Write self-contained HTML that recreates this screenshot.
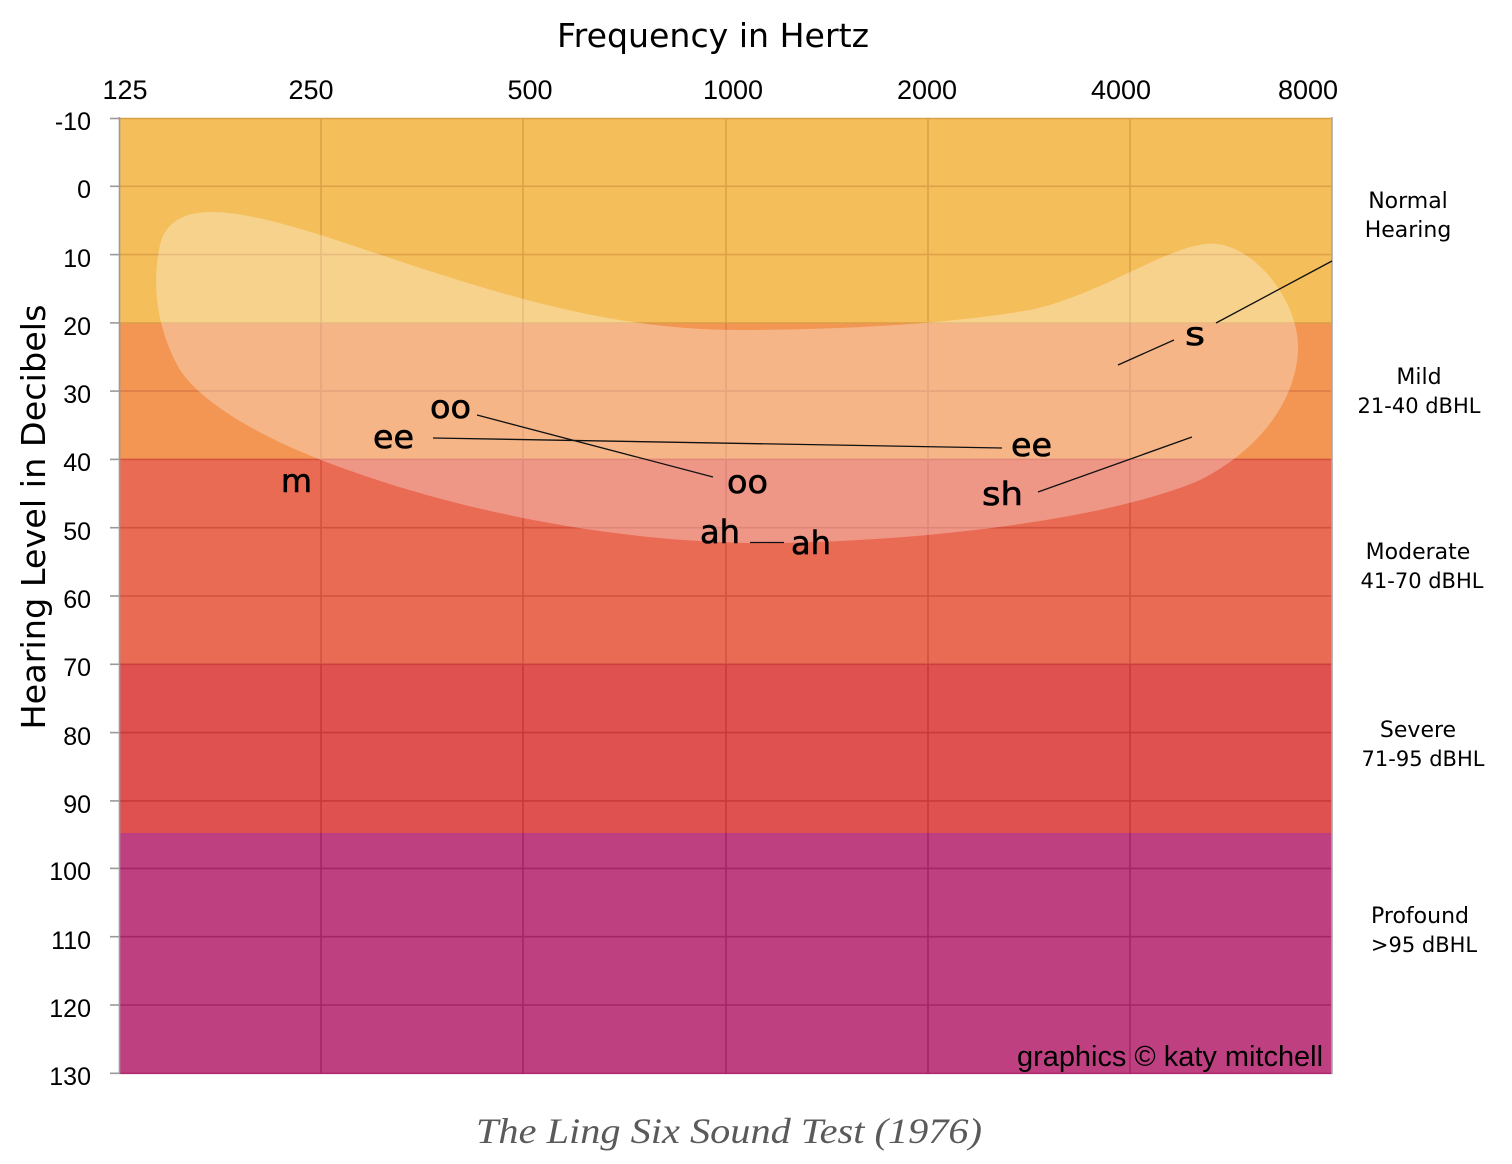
<!DOCTYPE html>
<html>
<head>
<meta charset="utf-8">
<style>
  html,body{margin:0;padding:0;background:#fff;}
  svg{display:block;}
</style>
</head>
<body>
<svg width="1512" height="1164" viewBox="0 0 1512 1164" xmlns="http://www.w3.org/2000/svg">
  <rect x="0" y="0" width="1512" height="1164" fill="#ffffff"/>

  <!-- bands -->
  <rect x="119" y="118" width="1213" height="205" fill="#f4bf5b"/>
  <rect x="119" y="323" width="1213" height="136.4" fill="#f39553"/>
  <rect x="119" y="459.4" width="1213" height="204.9" fill="#e96b54"/>
  <rect x="119" y="664.3" width="1213" height="168.7" fill="#df5150"/>
  <rect x="119" y="833" width="1213" height="241" fill="#bf4081"/>

  <!-- horizontal gridlines -->
  <g stroke-width="1.6" fill="none">
    <line x1="119" y1="118.5" x2="1332" y2="118.5" stroke="#dba045"/>
    <line x1="119" y1="186.3" x2="1332" y2="186.3" stroke="#dea048"/>
    <line x1="119" y1="254.6" x2="1332" y2="254.6" stroke="#dea048"/>
    <line x1="119" y1="322.9" x2="1332" y2="322.9" stroke="#dea048"/>
    <line x1="119" y1="391.1" x2="1332" y2="391.1" stroke="#dc7d47"/>
    <line x1="119" y1="459.4" x2="1332" y2="459.4" stroke="#d4553f"/>
    <line x1="119" y1="527.7" x2="1332" y2="527.7" stroke="#d3523f"/>
    <line x1="119" y1="596" x2="1332" y2="596" stroke="#d3523f"/>
    <line x1="119" y1="664.3" x2="1332" y2="664.3" stroke="#c9403c"/>
    <line x1="119" y1="732.6" x2="1332" y2="732.6" stroke="#c53a3b"/>
    <line x1="119" y1="800.9" x2="1332" y2="800.9" stroke="#c53a3b"/>
    <line x1="119" y1="868.4" x2="1332" y2="868.4" stroke="#a52566"/>
    <line x1="119" y1="936.7" x2="1332" y2="936.7" stroke="#a52566"/>
    <line x1="119" y1="1005" x2="1332" y2="1005" stroke="#a52566"/>
    <line x1="119" y1="1073.3" x2="1332" y2="1073.3" stroke="#b02a70"/>
  </g>

  <!-- vertical gridlines, segmented per band -->
  <g stroke-width="1.6" fill="none">
    <g stroke="#dea048">
      <line x1="321" y1="118" x2="321" y2="323"/>
      <line x1="523" y1="118" x2="523" y2="323"/>
      <line x1="726" y1="118" x2="726" y2="323"/>
      <line x1="928" y1="118" x2="928" y2="323"/>
      <line x1="1130" y1="118" x2="1130" y2="323"/>
    </g>
    <g stroke="#de7f47">
      <line x1="321" y1="323" x2="321" y2="459.4"/>
      <line x1="523" y1="323" x2="523" y2="459.4"/>
      <line x1="726" y1="323" x2="726" y2="459.4"/>
      <line x1="928" y1="323" x2="928" y2="459.4"/>
      <line x1="1130" y1="323" x2="1130" y2="459.4"/>
    </g>
    <g stroke="#d3523f">
      <line x1="321" y1="459.4" x2="321" y2="664.3"/>
      <line x1="523" y1="459.4" x2="523" y2="664.3"/>
      <line x1="726" y1="459.4" x2="726" y2="664.3"/>
      <line x1="928" y1="459.4" x2="928" y2="664.3"/>
      <line x1="1130" y1="459.4" x2="1130" y2="664.3"/>
    </g>
    <g stroke="#c53a3b">
      <line x1="321" y1="664.3" x2="321" y2="833"/>
      <line x1="523" y1="664.3" x2="523" y2="833"/>
      <line x1="726" y1="664.3" x2="726" y2="833"/>
      <line x1="928" y1="664.3" x2="928" y2="833"/>
      <line x1="1130" y1="664.3" x2="1130" y2="833"/>
    </g>
    <g stroke="#a52566">
      <line x1="321" y1="833" x2="321" y2="1074"/>
      <line x1="523" y1="833" x2="523" y2="1074"/>
      <line x1="726" y1="833" x2="726" y2="1074"/>
      <line x1="928" y1="833" x2="928" y2="1074"/>
      <line x1="1130" y1="833" x2="1130" y2="1074"/>
    </g>
  </g>

  <!-- speech banana -->
  <path d="M 210 212
           C 260 212, 330 238, 420 268
           C 520 300, 620 330, 740 330
           C 860 330, 960 322, 1030 310
           C 1100 295, 1160 250, 1205 244
           C 1250 238, 1300 300, 1298 350
           C 1296 400, 1260 450, 1200 480
           C 1120 515, 950 540, 780 543
           C 620 545, 450 510, 321 460
           C 250 432, 200 400, 180 370
           C 160 335, 150 290, 160 245
           C 165 222, 185 212, 210 212 Z"
        fill="#ffffff" fill-opacity="0.3"/>

  <!-- axes -->
  <g stroke="#9a9a9a" stroke-width="1.6">
    <line x1="119.5" y1="117" x2="119.5" y2="1074"/>
    <line x1="1332" y1="117" x2="1332" y2="1074" stroke="#a8a8a8"/>
    <line x1="110" y1="118.5" x2="119" y2="118.5"/>
    <line x1="110" y1="186.3" x2="119" y2="186.3"/>
    <line x1="110" y1="254.6" x2="119" y2="254.6"/>
    <line x1="110" y1="322.9" x2="119" y2="322.9"/>
    <line x1="110" y1="391.1" x2="119" y2="391.1"/>
    <line x1="110" y1="459.4" x2="119" y2="459.4"/>
    <line x1="110" y1="527.7" x2="119" y2="527.7"/>
    <line x1="110" y1="596" x2="119" y2="596"/>
    <line x1="110" y1="664.3" x2="119" y2="664.3"/>
    <line x1="110" y1="732.6" x2="119" y2="732.6"/>
    <line x1="110" y1="800.9" x2="119" y2="800.9"/>
    <line x1="110" y1="868.4" x2="119" y2="868.4"/>
    <line x1="110" y1="936.7" x2="119" y2="936.7"/>
    <line x1="110" y1="1005" x2="119" y2="1005"/>
    <line x1="110" y1="1073.3" x2="119" y2="1073.3"/>
  </g>

  <!-- connector lines -->
  <g stroke="#111" stroke-width="1.3" fill="none">
    <line x1="477" y1="415" x2="713" y2="477"/>
    <line x1="433" y1="438" x2="1002" y2="448"/>
    <line x1="750" y1="542.5" x2="784" y2="542.5"/>
    <line x1="1038" y1="492" x2="1192" y2="437"/>
    <line x1="1118" y1="365" x2="1174" y2="340"/>
    <line x1="1216" y1="323" x2="1332" y2="261"/>
  </g>

  <!-- phoneme labels -->
  <g font-family="'DejaVu Sans', 'Liberation Sans', sans-serif" font-size="32" fill="#000" stroke="#000" stroke-width="0.6">
    <text x="430" y="418" textLength="41" lengthAdjust="spacingAndGlyphs">oo</text>
    <text x="373" y="448" textLength="41" lengthAdjust="spacingAndGlyphs">ee</text>
    <text x="281" y="492" textLength="31" lengthAdjust="spacingAndGlyphs">m</text>
    <text x="727" y="493" textLength="41" lengthAdjust="spacingAndGlyphs">oo</text>
    <text x="700" y="543" textLength="40" lengthAdjust="spacingAndGlyphs">ah</text>
    <text x="791" y="554" textLength="40" lengthAdjust="spacingAndGlyphs">ah</text>
    <text x="1011" y="456" textLength="41" lengthAdjust="spacingAndGlyphs">ee</text>
    <text x="982" y="505" textLength="41" lengthAdjust="spacingAndGlyphs">sh</text>
    <text x="1185" y="345" textLength="20" lengthAdjust="spacingAndGlyphs">s</text>
  </g>

  <!-- y tick labels -->
  <g font-family="'Liberation Sans', Arial, sans-serif" font-size="25" fill="#000" text-anchor="end">
    <text x="91" y="130">-10</text>
    <text x="91" y="198">0</text>
    <text x="91" y="267">10</text>
    <text x="91" y="335">20</text>
    <text x="91" y="403">30</text>
    <text x="91" y="471">40</text>
    <text x="91" y="540">50</text>
    <text x="91" y="608">60</text>
    <text x="91" y="676">70</text>
    <text x="91" y="745">80</text>
    <text x="91" y="813">90</text>
    <text x="91" y="880">100</text>
    <text x="91" y="949">110</text>
    <text x="91" y="1017">120</text>
    <text x="91" y="1085">130</text>
  </g>

  <!-- x tick labels -->
  <g font-family="'Liberation Sans', Arial, sans-serif" font-size="27" fill="#000" text-anchor="middle">
    <text x="125" y="99">125</text>
    <text x="311" y="99">250</text>
    <text x="530" y="99">500</text>
    <text x="733" y="99">1000</text>
    <text x="927" y="99">2000</text>
    <text x="1121" y="99">4000</text>
    <text x="1308" y="99">8000</text>
  </g>

  <!-- titles -->
  <text x="713" y="47" font-family="'DejaVu Sans', 'Liberation Sans', sans-serif" font-size="33" fill="#000" text-anchor="middle" textLength="312" lengthAdjust="spacingAndGlyphs">Frequency in Hertz</text>
  <text transform="translate(45,517) rotate(-90)" x="0" y="0" font-family="'DejaVu Sans', 'Liberation Sans', sans-serif" font-size="33" fill="#000" text-anchor="middle" textLength="425" lengthAdjust="spacingAndGlyphs">Hearing Level in Decibels</text>

  <!-- right labels -->
  <g font-family="'DejaVu Sans', 'Liberation Sans', sans-serif" fill="#000" text-anchor="middle">
    <text x="1408" y="208" font-size="22">Normal</text>
    <text x="1408" y="237" font-size="22">Hearing</text>
    <text x="1419" y="384" font-size="22">Mild</text>
    <text x="1419" y="413" font-size="21">21-40 dBHL</text>
    <text x="1418" y="559" font-size="22">Moderate</text>
    <text x="1422" y="588" font-size="21">41-70 dBHL</text>
    <text x="1418" y="737" font-size="22">Severe</text>
    <text x="1423" y="766" font-size="21">71-95 dBHL</text>
    <text x="1420" y="923" font-size="22">Profound</text>
    <text x="1424" y="952" font-size="21">&gt;95 dBHL</text>
  </g>

  <!-- credit -->
  <text x="1017" y="1066" font-family="'Liberation Sans', Arial, sans-serif" font-size="29" fill="#000" textLength="306" lengthAdjust="spacingAndGlyphs">graphics © katy mitchell</text>

  <!-- caption -->
  <text x="729" y="1143" font-family="'Liberation Serif', serif" font-style="italic" font-size="36" fill="#5a5a5a" text-anchor="middle" textLength="506" lengthAdjust="spacingAndGlyphs">The Ling Six Sound Test (1976)</text>
</svg>
</body>
</html>
